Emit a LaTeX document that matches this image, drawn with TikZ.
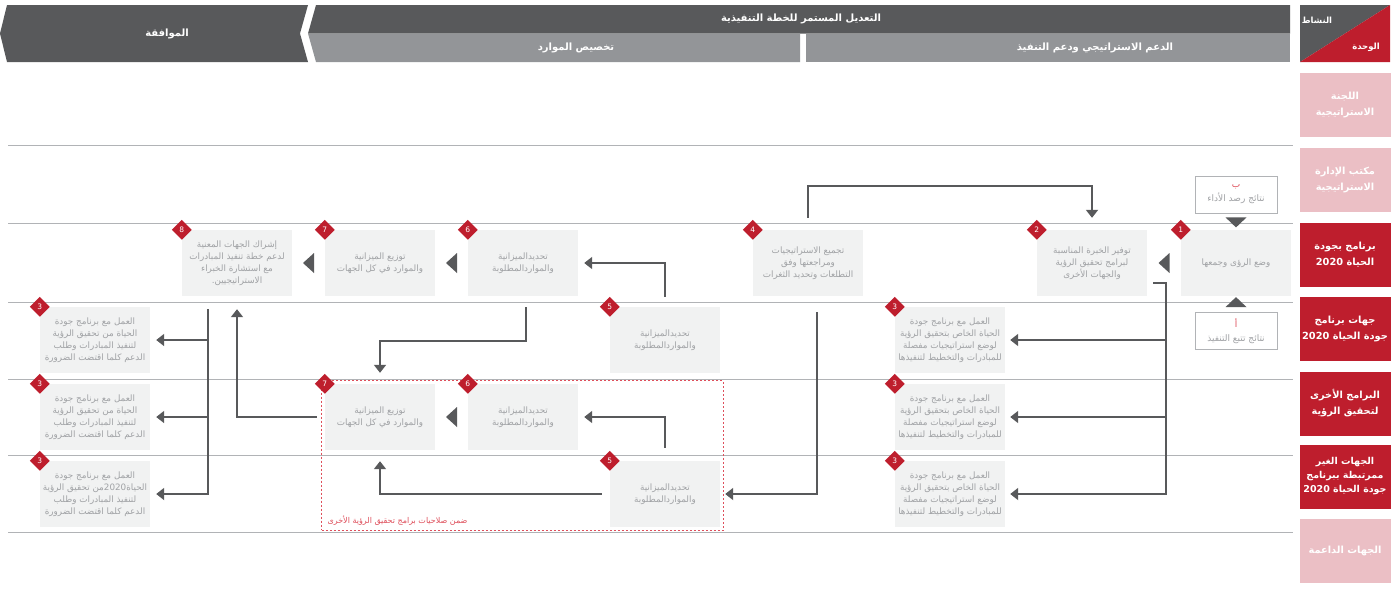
\documentclass[tikz,border=0pt]{standalone}
\usepackage{fontspec}
\newfontfamily\arabicfont[Script=Arabic]{DejaVu Sans}
\TeXXeTstate=1
\usetikzlibrary{arrows.meta,shapes.geometric,calc,fit}
\definecolor{slate}{HTML}{58595B}
\definecolor{ash}{HTML}{939598}
\definecolor{paper}{HTML}{F1F2F2}
\definecolor{mist}{HTML}{A0A2A5}
\definecolor{lane}{HTML}{B1B3B6}
\definecolor{crimson}{HTML}{BE1E2D}
\definecolor{blush}{HTML}{EBBFC5}
\definecolor{alert}{HTML}{DE4F5B}
\newcommand{\arln}[1]{\beginR #1\endR}

\tikzset{
  task/.style={fill=paper, text=mist, minimum width=110pt, minimum height=66pt, inner sep=1pt,
    align=center, font=\arabicfont\fontsize{8.8}{12}\selectfont},
  unit/.style={fill=crimson, text=white, minimum width=91pt, minimum height=64pt, inner sep=1pt,
    align=center, font=\arabicfont\bfseries\fontsize{9.8}{16}\selectfont},
  faded/.style={unit, fill=blush},
  headtext/.style={text=white, font=\arabicfont\bfseries\fontsize{10}{12}\selectfont},
  badge/.style={diamond, fill=crimson, text=white, minimum size=20pt, inner sep=0pt,
    font=\arabicfont\fontsize{7.5}{7.5}\selectfont},
  result/.style={draw=lane, line width=0.8pt, fill=white, text=mist, minimum width=82pt,
    minimum height=37pt, inner sep=1pt, align=center, font=\arabicfont\fontsize{9}{14}\selectfont},
  remitbox/.style={draw=alert, line width=0.8pt, dash pattern=on 2pt off 2pt, inner sep=3pt},
  flow/.style={draw=slate, line width=1.8pt, -{Triangle[length=8pt,width=12pt]}},
  laneline/.style={draw=lane, line width=0.9pt},
  lefttri/.pic={\fill[slate] (-5.5,0) -- (5.5,-10) -- (5.5,10) -- cycle;},
  downtri/.pic={\fill[slate] (-10.5,-5) -- (10.5,-5) -- (0,5) -- cycle;},
  uptri/.pic={\fill[slate] (-10.5,5) -- (10.5,5) -- (0,-5) -- cycle;}
}

\begin{document}
\begin{tikzpicture}[x=1pt, y=-1pt, font=\arabicfont]
  \useasboundingbox (0,0) rectangle (1399,606);

  % Header: chevrons pointing left, then the corner cell.
  \fill[slate] (7,5) -- (308,5) -- (300,33.5) -- (308,62) -- (7,62) -- (0,33.5) -- cycle;
  \fill[slate] (316,5) -- (1290,5) -- (1290,33.5) -- (308,33.5) -- cycle;
  \fill[ash] (308,33.5) -- (800,33.5) -- (800,62) -- (316,62) -- cycle;
  \fill[ash] (806,33.5) rectangle (1290,62);
  \fill[slate] (1300,5) -- (1390,5) -- (1300,62) -- cycle;
  \fill[crimson] (1390,5) -- (1390,62) -- (1300,62) -- cycle;

  \node[headtext] (approval) at (167,33.5) {\arln{الموافقة}};
  \node[headtext] (revision) at (801,19) {\arln{التعديل المستمر للخطة التنفيذية}};
  \node[headtext] (allocation) at (576,48) {\arln{تخصيص الموارد}};
  \node[headtext] (support) at (1095,48) {\arln{الدعم الاستراتيجي ودعم التنفيذ}};
  \node[headtext, font=\arabicfont\bfseries\fontsize{8.5}{10}\selectfont] (activity) at (1317,20) {\arln{النشاط}};
  \node[headtext, font=\arabicfont\bfseries\fontsize{8.5}{10}\selectfont] (unitlbl) at (1366,47) {\arln{الوحدة}};

  % Swimlane separators.
  \draw[laneline] (8,145) -- (1293,145);
  \draw[laneline] (8,223) -- (1293,223);
  \draw[laneline] (8,302) -- (1293,302);
  \draw[laneline] (8,379) -- (1293,379);
  \draw[laneline] (8,455) -- (1293,455);
  \draw[laneline] (8,532) -- (1293,532);

  % Units column.
  \node[faded] (u1) at (1345,105) {\arln{اللجنة}\\\arln{الاستراتيجية}};
  \node[faded] (u2) at (1345,179.5) {\arln{مكتب الإدارة}\\\arln{الاستراتيجية}};
  \node[unit] (u3) at (1345,254.5) {\arln{برنامج بجودة}\\\arln{الحياة \beginL 2020\endL{}}};
  \node[unit] (u4) at (1345,329) {\arln{جهات برنامج}\\\arln{جودة الحياة \beginL 2020\endL{}}};
  \node[unit] (u5) at (1345,403.5) {\arln{البرامج الأخرى}\\\arln{لتحقيق الرؤية}};
  \node[unit, font=\arabicfont\bfseries\fontsize{9.5}{14}\selectfont] (u6) at (1345,476.5)
    {\arln{الجهات الغير}\\\arln{ممرتبطة ببرنامج}\\\arln{جودة الحياة \beginL 2020\endL{}}};
  \node[faded] (u7) at (1345,551) {\arln{الجهات الداعمة}};

  % Results feeding step 1.
  \node[result] (rb) at (1236,194.5) {{\color{alert}\arln{ب}}\\\arln{نتائج رصد الأداء}};
  \node[result] (ra) at (1236,331) {{\color{alert}\arln{أ}}\\\arln{نتائج تتبع التنفيذ}};

  % Row of the quality of life programme.
  \node[task] (b1) at (1236,263) {\arln{وضع الرؤى وجمعها}};
  \node[task] (b2) at (1092,263) {\arln{توفير الخبرة المناسبة}\\\arln{لبرامج تحقيق الرؤية}\\\arln{والجهات الأخرى}};
  \node[task] (b4) at (808,263) {\arln{تجميع الاستراتيجيات}\\\arln{ومراجعتها وفق}\\\arln{التطلعات وتحديد الثغرات}};
  \node[task] (b6) at (523,263) {\arln{تحديدالميزانية}\\\arln{والمواردالمطلوبة}};
  \node[task] (b7) at (380,263) {\arln{توزيع الميزانية}\\\arln{والموارد  في كل الجهات}};
  \node[task] (b8) at (237,263) {\arln{إشراك الجهات المعنية}\\\arln{لدعم خطة تنفيذ المبادرات}\\\arln{مع استشارة الخبراء}\\\arln{الاستراتيجيين.}};

  % Rows of the programme entities, the other programmes and the unlinked entities.
  \node[task] (b3b) at (950,340) {\arln{العمل مع برنامج جودة}\\\arln{الحياة الخاص بتحقيق الرؤية}\\\arln{لوضع استراتيجيات مفصلة}\\\arln{للمبادرات والتخطيط لتنفيذها}};
  \node[task] (b3d) at (950,417) {\arln{العمل مع برنامج جودة}\\\arln{الحياة الخاص بتحقيق الرؤية}\\\arln{لوضع استراتيجيات مفصلة}\\\arln{للمبادرات والتخطيط لتنفيذها}};
  \node[task] (b3f) at (950,494) {\arln{العمل مع برنامج جودة}\\\arln{الحياة الخاص بتحقيق الرؤية}\\\arln{لوضع استراتيجيات مفصلة}\\\arln{للمبادرات والتخطيط لتنفيذها}};
  \node[task] (b5a) at (665,340) {\arln{تحديدالميزانية}\\\arln{والمواردالمطلوبة}};
  \node[task] (b6b) at (523,417) {\arln{تحديدالميزانية}\\\arln{والمواردالمطلوبة}};
  \node[task] (b7b) at (380,417) {\arln{توزيع الميزانية}\\\arln{والموارد  في كل الجهات}};
  \node[task] (b5b) at (665,494) {\arln{تحديدالميزانية}\\\arln{والمواردالمطلوبة}};
  \node[task] (b3a) at (95,340) {\arln{العمل مع برنامج جودة}\\\arln{الحياة من تحقيق الرؤية}\\\arln{لتنفيذ المبادرات وطلب}\\\arln{الدعم كلما اقتضت الضرورة}};
  \node[task] (b3c) at (95,417) {\arln{العمل مع برنامج جودة}\\\arln{الحياة من تحقيق الرؤية}\\\arln{لتنفيذ المبادرات وطلب}\\\arln{الدعم كلما اقتضت الضرورة}};
  \node[task] (b3e) at (95,494) {\arln{العمل مع برنامج جودة}\\\arln{الحياة\beginL 2020\endL{}من تحقيق الرؤية}\\\arln{لتنفيذ المبادرات وطلب}\\\arln{الدعم كلما اقتضت الضرورة}};

  % Dashed frame round the steps owned by the other programmes.
  \node[remitbox, fit=(b7b)(b6b)(b5b)] (remit) {};
  \node[anchor=south west, text=alert, inner sep=0pt, font=\arabicfont\fontsize{8}{9}\selectfont]
    (remitnote) at ([xshift=6pt,yshift=5pt]remit.south west) {\arln{ضمن صلاحيات برامج تحقيق الرؤية الأخرى}};

  % Step numbers on the top left corners.
  \node[badge] at (b1.north west) {1};
  \node[badge] at (b2.north west) {2};
  \node[badge] at (b4.north west) {4};
  \node[badge] at (b6.north west) {6};
  \node[badge] at (b7.north west) {7};
  \node[badge] at (b8.north west) {8};
  \node[badge] at (b3a.north west) {3};
  \node[badge] at (b3b.north west) {3};
  \node[badge] at (b3c.north west) {3};
  \node[badge] at (b3d.north west) {3};
  \node[badge] at (b3e.north west) {3};
  \node[badge] at (b3f.north west) {3};
  \node[badge] at (b5a.north west) {5};
  \node[badge] at (b5b.north west) {5};
  \node[badge] at (b6b.north west) {6};
  \node[badge] at (b7b.north west) {7};

  % Direction marks between neighbouring steps.
  \pic at ($(b2.east)!0.5!(b1.west)$) {lefttri};
  \pic at ($(b7.east)!0.5!(b6.west)$) {lefttri};
  \pic at ($(b8.east)!0.5!(b7.west)$) {lefttri};
  \pic at ($(b7b.east)!0.5!(b6b.west)$) {lefttri};
  \pic at ($(rb.south)+(0,9)$) {downtri};
  \pic at ($(ra.north)+(0,-10)$) {uptri};

  % Connectors.
  \draw[flow, shorten <=12pt, shorten >=12pt] (b4.north) -- ++(0,-44) -| (b2.north);
  \draw[flow, shorten >=5pt] ([xshift=6pt,yshift=-20pt]b2.east) -- ++(13,0) coordinate (j2) |- (b3f.east);
  \draw[flow, shorten >=5pt] (j2 |- b3b.east) -- (b3b.east);
  \draw[flow, shorten >=5pt] (j2 |- b3d.east) -- (b3d.east);
  \draw[flow, shorten <=16pt, shorten >=5pt] ([xshift=9pt]b4.south) |- (b5b.east);
  \draw[flow, shorten <=10pt, shorten >=6pt] (b5a.north) |- (b6.east);
  \draw[flow, shorten <=11pt, shorten >=11pt] ([xshift=3pt]b6.south) -- ++(0,45) -| (b7b.north);
  \draw[flow, shorten <=13pt, shorten >=6pt] (b5b.north) |- (b6b.east);
  \draw[flow, shorten <=8pt, shorten >=11pt] (b5b.west) -| (b7b.south);
  \draw[flow, shorten <=8pt, shorten >=13pt] (b7b.west) -| (b8.south);
  \draw[flow, shorten >=6pt] ([xshift=-29pt,yshift=-13pt]b8.south) coordinate (j9) |- (b3e.east);
  \draw[flow, shorten >=6pt] (j9 |- b3a.east) -- (b3a.east);
  \draw[flow, shorten >=6pt] (j9 |- b3c.east) -- (b3c.east);
\end{tikzpicture}
\end{document}
